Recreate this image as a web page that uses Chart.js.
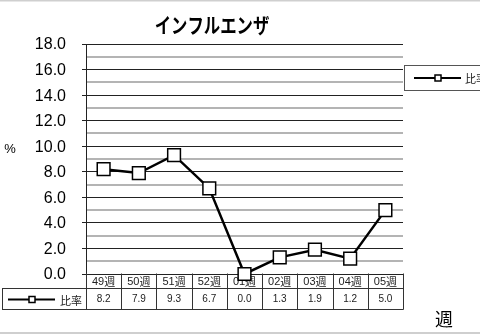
<!DOCTYPE html>
<html>
<head>
<meta charset="utf-8">
<script src="https://cdn.jsdelivr.net/npm/chart.js@4/dist/chart.umd.min.js"></script>
<style>
  html, body { margin: 0; padding: 0; background: #fff; }
  #wrap { position: relative; width: 480px; height: 334px; }
</style>
</head>
<body>
<div id="wrap"><canvas id="c" width="480" height="334"></canvas></div>
<script>
// 週ごとのインフルエンザ比率 (%)
const weeks = ['49週', '50週', '51週', '52週', '01週', '02週', '03週', '04週', '05週'];
const ratio = [8.2, 7.9, 9.3, 6.7, 0.0, 1.3, 1.9, 1.2, 5.0];
const yTicks = [0, 2, 4, 6, 8, 10, 12, 14, 16, 18];
const seriesName = '比率';
const chartTitle = 'インフルエンザ';
const yUnit = '%';
const xUnit = '週';

const LATIN = '"Liberation Sans", Arial, sans-serif';
const CJK = '"Noto Sans CJK JP", sans-serif';

function drawMarker(ctx, x, y, half, lw) {
  ctx.save();
  ctx.fillStyle = '#fff';
  ctx.strokeStyle = '#000';
  ctx.lineWidth = lw;
  ctx.fillRect(x - half, y - half, half * 2, half * 2);
  ctx.strokeRect(x - half, y - half, half * 2, half * 2);
  ctx.restore();
}

// 下部のデータ表・凡例・タイトルなどの描画
const decorations = {
  id: 'decorations',
  beforeDatasetsDraw(chart) {
    const { ctx, chartArea, scales } = chart;
    const xs = scales.x, ys = scales.y;
    const left = chartArea.left, right = chartArea.right;
    const top1 = chartArea.bottom - 1, mid = chartArea.bottom + 14, bot = chartArea.bottom + 35;
    const colW = (right - left) / weeks.length;

    ctx.save();
    // y axis labels
    ctx.fillStyle = '#000';
    ctx.textAlign = 'right';
    ctx.textBaseline = 'middle';
    ctx.font = '16px ' + LATIN;
    yTicks.forEach(v => {
      ctx.fillText(v.toFixed(1), 66, ys.getPixelForValue(v) + 1);
    });

    ctx.strokeStyle = '#333';
    ctx.lineWidth = 1;
    // table frame
    ctx.beginPath();
    ctx.moveTo(left + 0.5, top1);
    ctx.lineTo(left + 0.5, bot + 0.5);
    ctx.moveTo(right + 0.5, top1 + 0.5);
    ctx.lineTo(right + 0.5, bot + 0.5);
    ctx.moveTo(2, mid + 0.5);
    ctx.lineTo(right + 0.5, mid + 0.5);
    ctx.moveTo(2, bot + 0.5);
    ctx.lineTo(right + 0.5, bot + 0.5);
    ctx.moveTo(2.5, mid + 0.5);
    ctx.lineTo(2.5, bot + 0.5);
    for (let i = 1; i < weeks.length; i++) {
      const x = Math.round(left + colW * i) + 0.5;
      ctx.moveTo(x, top1 + 0.5);
      ctx.lineTo(x, bot + 0.5);
    }
    ctx.stroke();

    ctx.fillStyle = '#222';
    weeks.forEach((w, i) => {
      const cx = xs.getPixelForValue(i);
      // number part and 週 use separate fonts
      const num = w.slice(0, 2);
      ctx.font = '11px ' + LATIN;
      const nw = ctx.measureText(num).width;
      ctx.font = '11px ' + CJK;
      const kw = ctx.measureText('週').width;
      const sx = cx - (nw + kw) / 2;
      ctx.textAlign = 'left';
      ctx.font = '11px ' + LATIN;
      ctx.fillText(num, sx, (top1 + mid) / 2 + 1);
      ctx.font = '11px ' + CJK;
      ctx.fillText('週', sx + nw, (top1 + mid) / 2 + 1);
      ctx.textAlign = 'center';
      ctx.font = '10px ' + LATIN;
      ctx.fillText(ratio[i].toFixed(1), cx, (mid + bot) / 2 + 1);
    });

    // series key inside the table
    const ky = Math.round((mid + bot) / 2) + 0.5;
    ctx.strokeStyle = '#000';
    ctx.lineWidth = 2;
    ctx.beginPath();
    ctx.moveTo(8, ky);
    ctx.lineTo(55, ky);
    ctx.stroke();
    drawMarker(ctx, 32, ky, 3, 1.5);
    ctx.fillStyle = '#222';
    ctx.textAlign = 'left';
    ctx.font = '11px ' + CJK;
    ctx.fillText(seriesName, 60, ky + 1);
    ctx.restore();
  },
  afterDraw(chart) {
    const { ctx } = chart;
    ctx.save();
    // outer gray rules
    ctx.fillStyle = '#cfcfcf';
    ctx.fillRect(0, 0, 480, 1.5);
    ctx.fillRect(0, 332, 480, 2);

    // title, slightly condensed
    ctx.fillStyle = '#000';
    ctx.textAlign = 'center';
    ctx.textBaseline = 'middle';
    ctx.font = 'bold 21px ' + CJK;
    ctx.translate(212, 25);
    ctx.scale(0.78, 1);
    ctx.fillText(chartTitle, 0, 0);
    ctx.setTransform(1, 0, 0, 1, 0, 0);

    // axis units
    ctx.font = '13px ' + LATIN;
    ctx.fillText(yUnit, 10, 149);
    ctx.font = '18px ' + CJK;
    ctx.fillText(xUnit, 444, 319);

    // legend box at right
    ctx.strokeStyle = '#555';
    ctx.lineWidth = 1;
    ctx.strokeRect(404.5, 65.5, 80, 25);
    ctx.strokeStyle = '#000';
    ctx.lineWidth = 2;
    ctx.beginPath();
    ctx.moveTo(414, 78);
    ctx.lineTo(461, 78);
    ctx.stroke();
    drawMarker(ctx, 438, 78, 3, 1.5);
    ctx.fillStyle = '#222';
    ctx.textAlign = 'left';
    ctx.font = '11px ' + CJK;
    ctx.fillText(seriesName, 465, 79);
    ctx.restore();
  }
};

new Chart(document.getElementById('c'), {
  type: 'line',
  data: {
    labels: weeks,
    datasets: [{
      label: seriesName,
      data: ratio,
      borderColor: '#000',
      borderWidth: 2.5,
      pointStyle: 'rect',
      pointRadius: 9,
      pointBorderWidth: 1.5,
      pointBackgroundColor: '#fff',
      pointBorderColor: '#000',
      tension: 0,
      clip: false
    }]
  },
  options: {
    responsive: false,
    animation: false,
    devicePixelRatio: 1,
    layout: { padding: { left: 0, right: 77, top: 44, bottom: 0 } },
    plugins: {
      legend: { display: false },
      title: { display: false },
      tooltip: { enabled: false }
    },
    scales: {
      x: {
        offset: true,
        grid: { display: false, drawTicks: false },
        border: { display: false },
        ticks: { display: false },
        afterFit(scale) { scale.height = 60; }
      },
      y: {
        min: 0,
        max: 18,
        afterFit(scale) { scale.width = 86; },
        border: { display: true, color: '#222', width: 1 },
        grid: {
          color: c => (c.tick && c.tick.value % 2 === 0) ? '#222' : '#b4b4b4',
          lineWidth: c => (c.tick && c.tick.value % 2 === 0) ? 1 : 2,
          tickColor: c => (c.tick && c.tick.value % 2 === 0) ? '#222' : 'rgba(0,0,0,0)',
          tickLength: 4,
          drawTicks: true
        },
        ticks: {
          stepSize: 1,
          autoSkip: false,
          padding: 16,
          color: 'rgba(0,0,0,0)',
          font: { family: 'Liberation Sans', size: 16 },
          callback: () => ''
        }
      }
    }
  },
  plugins: [decorations]
});
</script>
</body>
</html>
